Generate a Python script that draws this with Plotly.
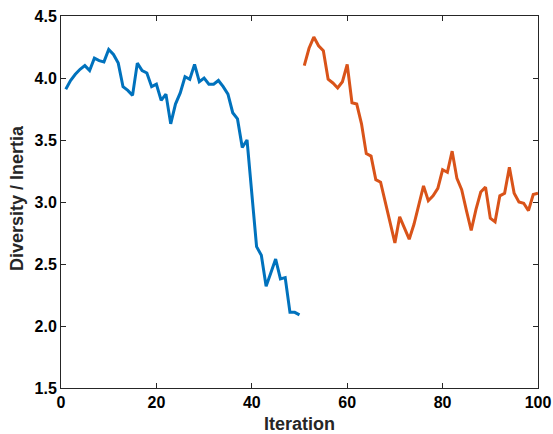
import plotly.graph_objects as go

# Diversity/inertia per iteration: first phase (1-50) and second phase (51-100)
iter_phase1 = list(range(1, 51))
div_phase1 = [3.91, 3.98, 4.03, 4.07, 4.10, 4.06, 4.16, 4.14, 4.13, 4.23,
              4.19, 4.12, 3.93, 3.90, 3.86, 4.12, 4.06, 4.04, 3.93, 3.95,
              3.82, 3.87, 3.63, 3.79, 3.88, 4.01, 3.99, 4.11, 3.97, 4.00,
              3.95, 3.95, 3.98, 3.93, 3.87, 3.72, 3.67, 3.44, 3.50, 3.07,
              2.64, 2.57, 2.32, 2.43, 2.54, 2.38, 2.39, 2.11, 2.11, 2.09]

iter_phase2 = list(range(51, 101))
div_phase2 = [4.10, 4.24, 4.33, 4.26, 4.22, 3.99, 3.96, 3.92, 3.97, 4.11,
              3.80, 3.79, 3.63, 3.39, 3.37, 3.18, 3.16, 3.00, 2.84, 2.67,
              2.88, 2.79, 2.70, 2.82, 2.98, 3.13, 3.01, 3.05, 3.11, 3.26,
              3.24, 3.41, 3.19, 3.10, 2.93, 2.77, 2.94, 3.08, 3.12, 2.87,
              2.84, 3.05, 3.07, 3.28, 3.07, 3.00, 2.99, 2.93, 3.06, 3.07]

x_ticks = [0, 20, 40, 60, 80, 100]
y_ticks = [1.5, 2.0, 2.5, 3.0, 3.5, 4.0, 4.5]
y_tick_text = ["%.1f" % v for v in y_ticks]

BLUE = "#0072BD"
ORANGE = "#D95319"
AXIS = "#262626"
FONT = "Liberation Sans, Arial, sans-serif"

fig = go.Figure()
fig.add_trace(go.Scatter(x=iter_phase1, y=div_phase1, mode="lines",
                         line=dict(color=BLUE, width=3), showlegend=False))
fig.add_trace(go.Scatter(x=iter_phase2, y=div_phase2, mode="lines",
                         line=dict(color=ORANGE, width=3), showlegend=False))

axis_common = dict(
    showline=True, linecolor=AXIS, linewidth=1, mirror="ticks",
    ticks="inside", ticklen=5, tickcolor=AXIS, tickwidth=1,
    showgrid=False, zeroline=False, automargin=False,
    tickfont=dict(family=FONT, size=16, color="#000000", weight="bold"),
)

fig.update_xaxes(range=[0, 100], tickvals=x_ticks, **axis_common)
fig.update_yaxes(range=[1.5, 4.5], tickvals=y_ticks, ticktext=y_tick_text,
                 **axis_common)

title_font = dict(family=FONT, size=18, color=AXIS, weight="bold")
fig.add_annotation(text="Iteration", xref="paper", yref="paper",
                   x=0.5, y=0, yshift=-36, xanchor="center", yanchor="middle",
                   showarrow=False, font=title_font)
fig.add_annotation(text="Diversity / Inertia", xref="paper", yref="paper",
                   x=0, y=0.5, xshift=-44, yshift=4, xanchor="center", yanchor="middle",
                   textangle=-90, showarrow=False, font=title_font)

fig.update_layout(
    width=553, height=434,
    margin=dict(l=61, r=15, t=16, b=46),
    paper_bgcolor="white", plot_bgcolor="white",
)

fig.write_html("out.html")
